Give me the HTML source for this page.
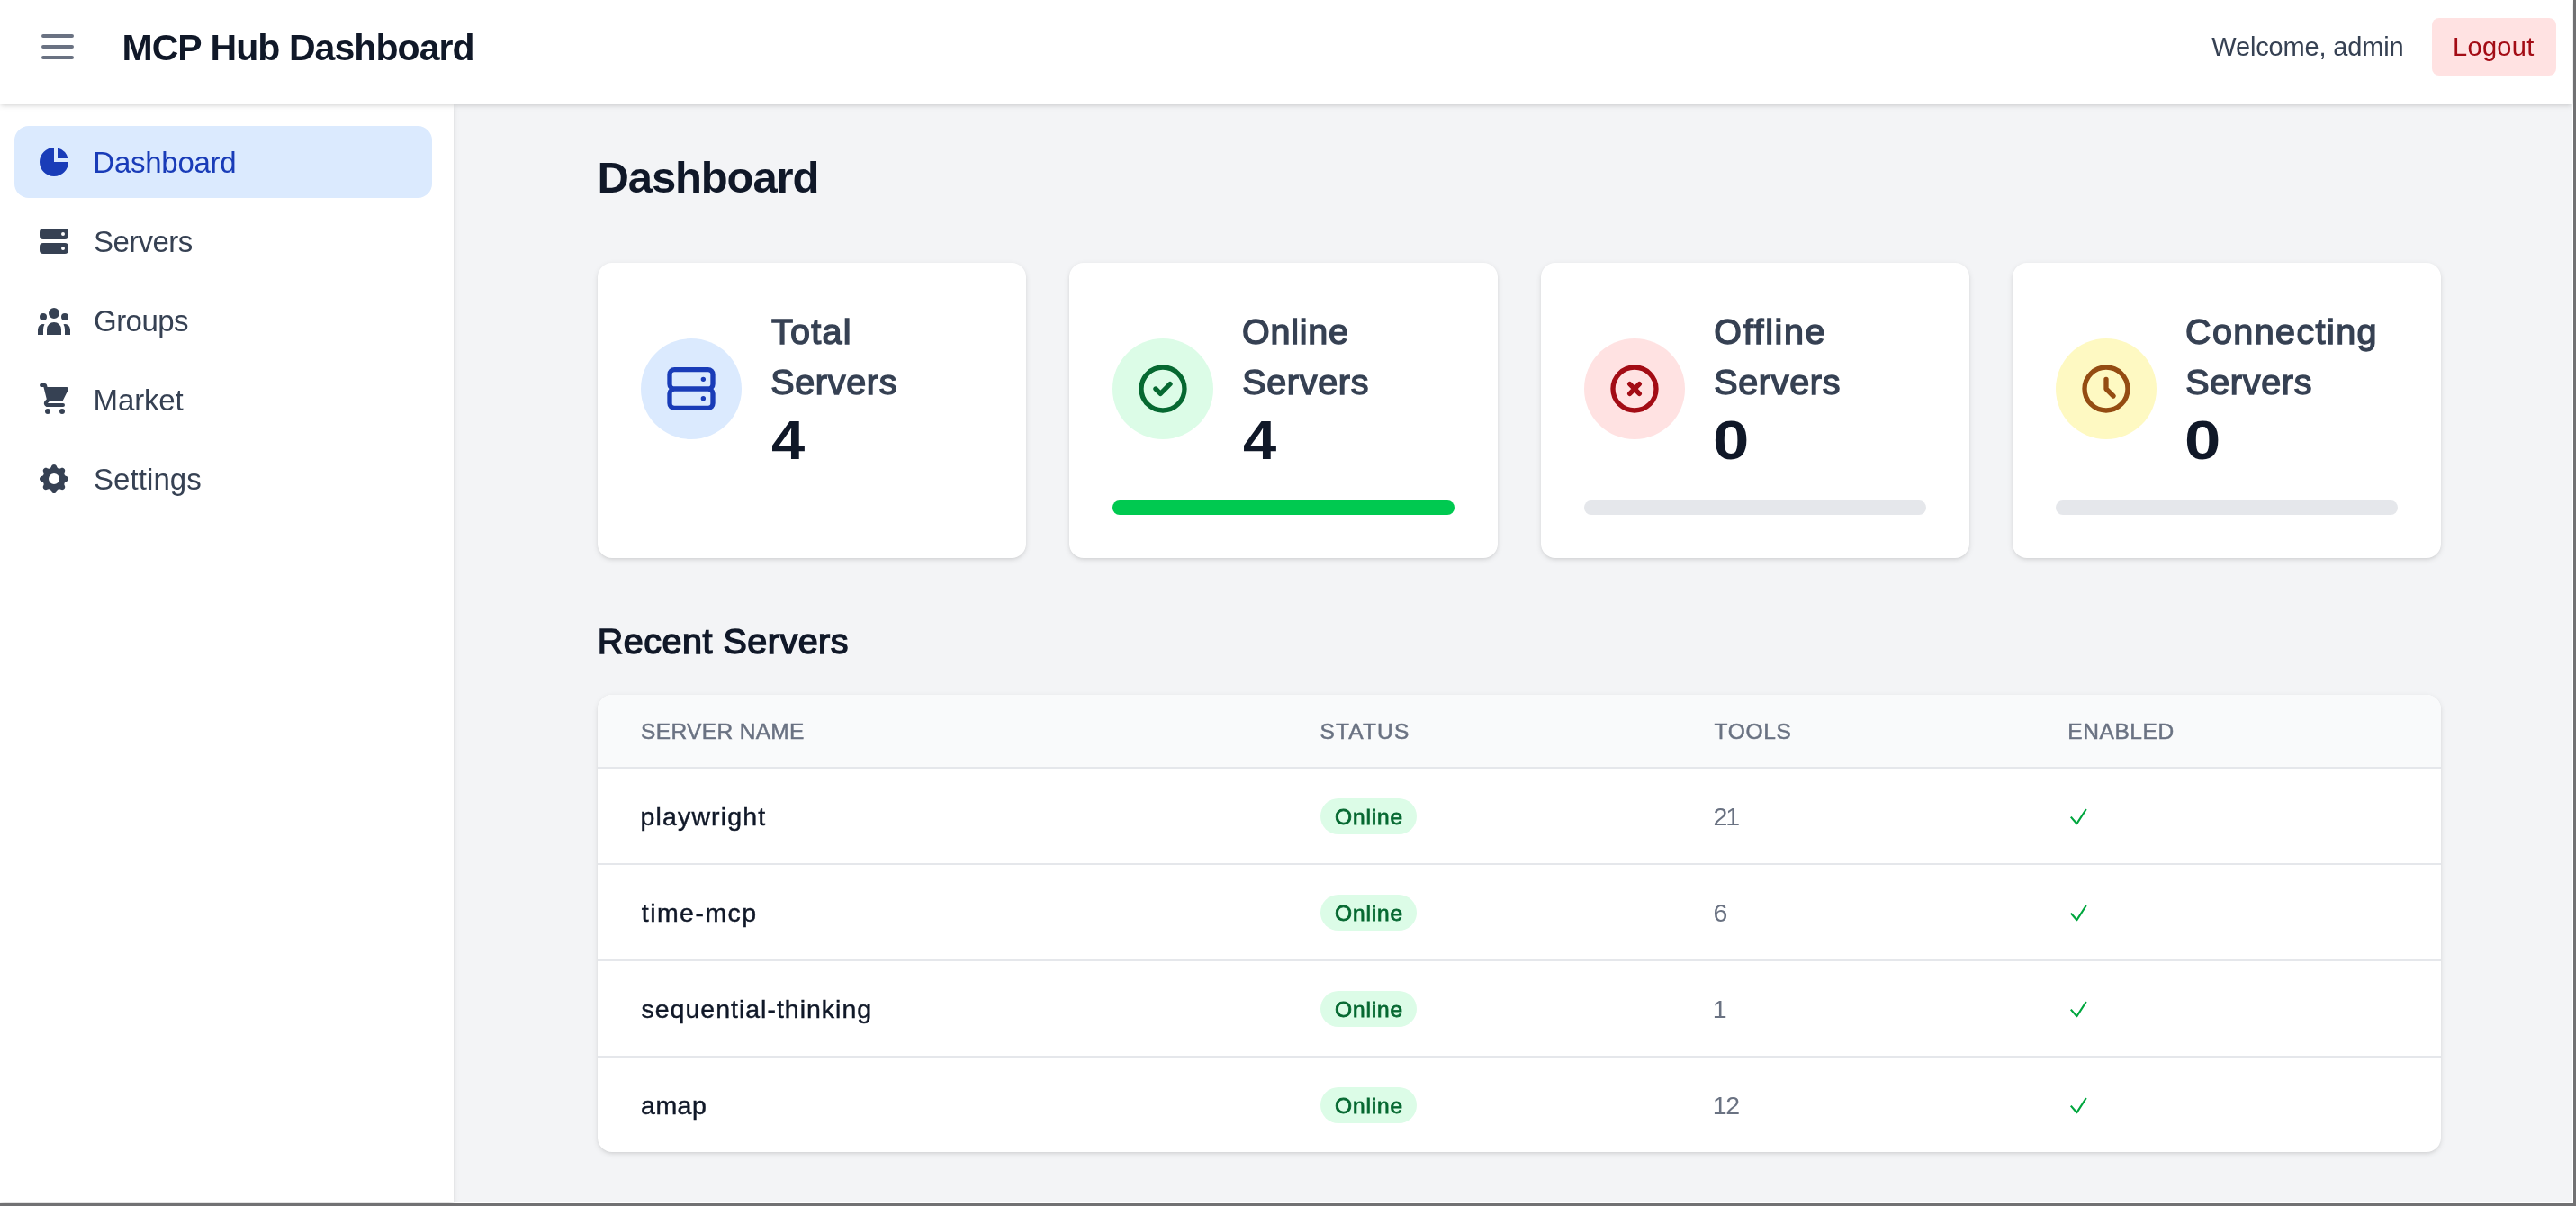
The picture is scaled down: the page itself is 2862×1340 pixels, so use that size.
<!DOCTYPE html>
<html lang="en"><head><meta charset="utf-8"><title>MCP Hub Dashboard</title>
<style>
*{box-sizing:border-box;margin:0;padding:0}
html,body{width:2862px;height:1340px;overflow:hidden;background:#717173;font-family:"Liberation Sans",sans-serif}
#page{position:absolute;left:0;top:0;width:2859px;height:1337px;background:#fff;overflow:hidden}
#main{position:absolute;left:504px;top:116px;width:2354px;height:1220px;background:#f3f4f6}
#side{position:absolute;left:0;top:116px;width:504px;height:1220px;background:#fff;box-shadow:0 2px 6px rgba(0,0,0,.1),0 2px 4px -2px rgba(0,0,0,.1)}
#head{position:absolute;left:0;top:0;width:2858px;height:116px;background:#fff;box-shadow:0 2px 6px rgba(0,0,0,.1),0 2px 4px -2px rgba(0,0,0,.1)}
.t{position:absolute;white-space:nowrap;display:block;will-change:transform}
.abs{position:absolute}
.card{position:absolute;top:292px;width:476px;height:328px;background:#fff;border-radius:16px;box-shadow:0 2px 6px rgba(0,0,0,.1),0 2px 4px -2px rgba(0,0,0,.1)}
.circ{position:absolute;left:48px;top:84px;width:112px;height:112px;border-radius:50%}
.circ svg{position:absolute;left:24px;top:24px;width:64px;height:64px}
.bar{position:absolute;left:48px;top:264px;width:380px;height:16px;border-radius:8px;background:#e5e7eb}
.nav{position:absolute;left:16px;width:464px;height:80px;border-radius:16px}
.nav svg{position:absolute;left:24px;top:20px;width:40px;height:40px}
#tbl{position:absolute;left:664px;top:772px;width:2048px;height:508px;background:#fff;border-radius:16px;overflow:hidden;box-shadow:0 2px 6px rgba(0,0,0,.1),0 2px 4px -2px rgba(0,0,0,.1)}
.hr{position:absolute;left:0;width:2048px;height:2px;background:#e5e7eb}
.badge{position:absolute;left:803px;width:107px;height:40px;border-radius:20px;background:#dcfce7}
</style></head><body><div id="page">

<main>
<div id="main"></div>
<span class="t" id="t0" style="left:663px;padding-left:0.55px;top:166px;font-size:49.0px;line-height:62px;font-weight:700;color:#101828;letter-spacing:-1.14px;">Dashboard</span>
<div class="card" style="left:664px"><div class="circ" style="background:#dbeafe"><svg viewBox="0 0 24 24" fill="none" stroke="#193cb8" stroke-width="2" stroke-linecap="round" stroke-linejoin="round"><path d="M5 12h14M5 12a2 2 0 01-2-2V6a2 2 0 012-2h14a2 2 0 012 2v4a2 2 0 01-2 2M5 12a2 2 0 00-2 2v4a2 2 0 002 2h14a2 2 0 002-2v-4a2 2 0 00-2-2m-2-4h.01M17 16h.01"/></svg></div>
</div>
<span class="t" id="t1" style="left:857px;padding-left:0.05px;top:342px;font-size:39.5px;line-height:52px;font-weight:400;color:#364153;letter-spacing:1.26px;-webkit-text-stroke:1.4px #364153;">Total</span>
<span class="t" id="t2" style="left:856px;padding-left:0.13px;top:398px;font-size:39.5px;line-height:52px;font-weight:400;color:#364153;letter-spacing:0.7px;-webkit-text-stroke:1.4px #364153;">Servers</span>
<span class="t" id="t3" style="left:857px;padding-left:0.00px;top:450px;font-size:62.0px;line-height:77px;font-weight:700;color:#101828;letter-spacing:0.0px;transform:scaleX(1.08);transform-origin:0 0;">4</span>
<div class="card" style="left:1188px"><div class="circ" style="background:#dcfce7"><svg viewBox="0 0 24 24" fill="none" stroke="#066831" stroke-width="2" stroke-linecap="round" stroke-linejoin="round"><path d="M9 12l2 2 4-4m6 2a9 9 0 11-18 0 9 9 0 0118 0z"/></svg></div>
<div class="bar" style="background:#00c950"></div>
</div>
<span class="t" id="t4" style="left:1380px;padding-left:0.04px;top:342px;font-size:39.5px;line-height:52px;font-weight:400;color:#364153;letter-spacing:0.73px;-webkit-text-stroke:1.4px #364153;">Online</span>
<span class="t" id="t5" style="left:1380px;padding-left:0.13px;top:398px;font-size:39.5px;line-height:52px;font-weight:400;color:#364153;letter-spacing:0.7px;-webkit-text-stroke:1.4px #364153;">Servers</span>
<span class="t" id="t6" style="left:1381px;padding-left:0.00px;top:450px;font-size:62.0px;line-height:77px;font-weight:700;color:#101828;letter-spacing:0.0px;transform:scaleX(1.08);transform-origin:0 0;">4</span>
<div class="card" style="left:1712px"><div class="circ" style="background:#ffe2e2"><svg viewBox="0 0 24 24" fill="none" stroke="#a30c15" stroke-width="2" stroke-linecap="round" stroke-linejoin="round"><path d="M10 14l2-2m0 0l2-2m-2 2l-2-2m2 2l2 2m7-2a9 9 0 11-18 0 9 9 0 0118 0z"/></svg></div>
<div class="bar" style="background:#e5e7eb"></div>
</div>
<span class="t" id="t7" style="left:1904px;padding-left:0.35px;top:342px;font-size:39.5px;line-height:52px;font-weight:400;color:#364153;letter-spacing:1.63px;-webkit-text-stroke:1.4px #364153;">Offline</span>
<span class="t" id="t8" style="left:1904px;padding-left:0.13px;top:398px;font-size:39.5px;line-height:52px;font-weight:400;color:#364153;letter-spacing:0.7px;-webkit-text-stroke:1.4px #364153;">Servers</span>
<span class="t" id="t9" style="left:1903px;padding-left:0.07px;top:450px;font-size:62.0px;line-height:77px;font-weight:700;color:#101828;letter-spacing:0.0px;transform:scaleX(1.17);transform-origin:0 0;">0</span>
<div class="card" style="left:2236px"><div class="circ" style="background:#fef9c2"><svg viewBox="0 0 24 24" fill="none" stroke="#944c12" stroke-width="2" stroke-linecap="round" stroke-linejoin="round"><path d="M12 8v4l3 3m6-3a9 9 0 11-18 0 9 9 0 0118 0z"/></svg></div>
<div class="bar" style="background:#e5e7eb"></div>
</div>
<span class="t" id="t10" style="left:2428px;padding-left:0.06px;top:342px;font-size:39.5px;line-height:52px;font-weight:400;color:#364153;letter-spacing:1.4px;-webkit-text-stroke:1.4px #364153;">Connecting</span>
<span class="t" id="t11" style="left:2428px;padding-left:0.13px;top:398px;font-size:39.5px;line-height:52px;font-weight:400;color:#364153;letter-spacing:0.7px;-webkit-text-stroke:1.4px #364153;">Servers</span>
<span class="t" id="t12" style="left:2427px;padding-left:0.07px;top:450px;font-size:62.0px;line-height:77px;font-weight:700;color:#101828;letter-spacing:0.0px;transform:scaleX(1.17);transform-origin:0 0;">0</span>
<span class="t" id="t13" style="left:663px;padding-left:0.69px;top:686px;font-size:39.5px;line-height:52px;font-weight:400;color:#101828;letter-spacing:0.51px;-webkit-text-stroke:1.4px #101828;">Recent Servers</span>
<div id="tbl"><div class="abs" style="left:0;top:0;width:2048px;height:80px;background:#f9fafb"></div>
<div class="hr" style="top:80px"></div>
<div class="hr" style="top:187px"></div>
<div class="hr" style="top:294px"></div>
<div class="hr" style="top:401px"></div>
<div class="badge" style="top:115px"></div>
<svg class="abs" style="left:1626px;top:118px" width="40" height="34" viewBox="0 0 40 34"><path d="M10.8 17.6L17.4 25.2L27.8 9" fill="none" stroke="#00a63e" stroke-width="2.15" stroke-linejoin="round"/></svg>
<div class="badge" style="top:222px"></div>
<svg class="abs" style="left:1626px;top:225px" width="40" height="34" viewBox="0 0 40 34"><path d="M10.8 17.6L17.4 25.2L27.8 9" fill="none" stroke="#00a63e" stroke-width="2.15" stroke-linejoin="round"/></svg>
<div class="badge" style="top:329px"></div>
<svg class="abs" style="left:1626px;top:332px" width="40" height="34" viewBox="0 0 40 34"><path d="M10.8 17.6L17.4 25.2L27.8 9" fill="none" stroke="#00a63e" stroke-width="2.15" stroke-linejoin="round"/></svg>
<div class="badge" style="top:436px"></div>
<svg class="abs" style="left:1626px;top:439px" width="40" height="34" viewBox="0 0 40 34"><path d="M10.8 17.6L17.4 25.2L27.8 9" fill="none" stroke="#00a63e" stroke-width="2.15" stroke-linejoin="round"/></svg>
</div>
<span class="t" id="t14" style="left:712px;padding-left:0.07px;top:795px;font-size:24.5px;line-height:35px;font-weight:400;color:#6a7282;letter-spacing:0.35px;-webkit-text-stroke:0.5px #6a7282;">SERVER NAME</span>
<span class="t" id="t15" style="left:1466px;padding-left:0.50px;top:795px;font-size:24.5px;line-height:35px;font-weight:400;color:#6a7282;letter-spacing:1.15px;-webkit-text-stroke:0.5px #6a7282;">STATUS</span>
<span class="t" id="t16" style="left:1904px;padding-left:0.47px;top:795px;font-size:24.5px;line-height:35px;font-weight:400;color:#6a7282;letter-spacing:0.68px;-webkit-text-stroke:0.5px #6a7282;">TOOLS</span>
<span class="t" id="t17" style="left:2297px;padding-left:0.29px;top:795px;font-size:24.5px;line-height:35px;font-weight:400;color:#6a7282;letter-spacing:0.58px;-webkit-text-stroke:0.5px #6a7282;">ENABLED</span>
<span class="t" id="t18" style="left:711px;padding-left:0.58px;top:887px;font-size:28.5px;line-height:40px;font-weight:400;color:#101828;letter-spacing:1.13px;-webkit-text-stroke:0.45px #101828;">playwright</span>
<span class="t" id="t19" style="left:1482px;padding-left:0.96px;top:890px;font-size:24.5px;line-height:35px;font-weight:400;color:#066831;letter-spacing:0.87px;-webkit-text-stroke:0.8px #066831;">Online</span>
<span class="t" id="t20" style="left:1903px;padding-left:0.54px;top:887px;font-size:28.5px;line-height:40px;font-weight:400;color:#6a7282;letter-spacing:-2.2px;">21</span>
<span class="t" id="t21" style="left:712px;padding-left:0.75px;top:994px;font-size:28.5px;line-height:40px;font-weight:400;color:#101828;letter-spacing:1.46px;-webkit-text-stroke:0.45px #101828;">time-mcp</span>
<span class="t" id="t22" style="left:1482px;padding-left:0.96px;top:997px;font-size:24.5px;line-height:35px;font-weight:400;color:#066831;letter-spacing:0.87px;-webkit-text-stroke:0.8px #066831;">Online</span>
<span class="t" id="t23" style="left:1903px;padding-left:0.55px;top:994px;font-size:28.5px;line-height:40px;font-weight:400;color:#6a7282;letter-spacing:0.0px;">6</span>
<span class="t" id="t24" style="left:712px;padding-left:0.49px;top:1101px;font-size:28.5px;line-height:40px;font-weight:400;color:#101828;letter-spacing:1.0px;-webkit-text-stroke:0.45px #101828;">sequential-thinking</span>
<span class="t" id="t25" style="left:1482px;padding-left:0.96px;top:1104px;font-size:24.5px;line-height:35px;font-weight:400;color:#066831;letter-spacing:0.87px;-webkit-text-stroke:0.8px #066831;">Online</span>
<span class="t" id="t26" style="left:1902px;padding-left:0.67px;top:1101px;font-size:28.5px;line-height:40px;font-weight:400;color:#6a7282;letter-spacing:0.0px;">1</span>
<span class="t" id="t27" style="left:712px;padding-left:0.10px;top:1208px;font-size:28.5px;line-height:40px;font-weight:400;color:#101828;letter-spacing:0.47px;-webkit-text-stroke:0.45px #101828;">amap</span>
<span class="t" id="t28" style="left:1482px;padding-left:0.96px;top:1211px;font-size:24.5px;line-height:35px;font-weight:400;color:#066831;letter-spacing:0.87px;-webkit-text-stroke:0.8px #066831;">Online</span>
<span class="t" id="t29" style="left:1902px;padding-left:0.67px;top:1208px;font-size:28.5px;line-height:40px;font-weight:400;color:#6a7282;letter-spacing:-1.3px;">12</span>
</main>
<aside><nav>
<div id="side"></div>
<div class="nav" style="top:140px;background:#dbeafe"><svg viewBox="0 0 20 20" fill="#193cb8"><path d="M2 10a8 8 0 018-8v8h8a8 8 0 11-16 0z"/><path d="M12 2.252A8.014 8.014 0 0117.748 8H12V2.252z"/></svg></div>
<span class="t" id="t30" style="left:103px;padding-left:0.34px;top:158px;font-size:33.0px;line-height:45px;font-weight:400;color:#193cb8;letter-spacing:-0.26px;">Dashboard</span>
<div class="nav" style="top:228px;"><svg viewBox="0 0 20 20" fill="#364153"><path fill-rule="evenodd" clip-rule="evenodd" d="M2 5a2 2 0 012-2h12a2 2 0 012 2v2a2 2 0 01-2 2H4a2 2 0 01-2-2V5zm14 1a1 1 0 11-2 0 1 1 0 012 0zM2 13a2 2 0 012-2h12a2 2 0 012 2v2a2 2 0 01-2 2H4a2 2 0 01-2-2v-2zm14 1a1 1 0 11-2 0 1 1 0 012 0z"/></svg></div>
<span class="t" id="t31" style="left:103px;padding-left:0.98px;top:246px;font-size:33.0px;line-height:45px;font-weight:400;color:#364153;letter-spacing:-0.57px;">Servers</span>
<div class="nav" style="top:316px;"><svg viewBox="0 0 20 20" fill="#364153"><path d="M13 6a3 3 0 11-6 0 3 3 0 016 0zM18 8a2 2 0 11-4 0 2 2 0 014 0zM14 15a4 4 0 00-8 0v3h8v-3zM6 8a2 2 0 11-4 0 2 2 0 014 0zM16 18v-3a5.972 5.972 0 00-.75-2.906A3.005 3.005 0 0119 15v3h-3zM4.75 12.094A5.973 5.973 0 004 15v3H1v-3a3 3 0 013.75-2.906z"/></svg></div>
<span class="t" id="t32" style="left:104px;padding-left:0.00px;top:334px;font-size:33.0px;line-height:45px;font-weight:400;color:#364153;letter-spacing:-0.52px;">Groups</span>
<div class="nav" style="top:404px;"><svg viewBox="0 0 20 20" fill="#364153"><path d="M3 1a1 1 0 000 2h1.22l.305 1.222a.997.997 0 00.01.042l1.358 5.43-.893.892C3.74 11.846 4.632 14 6.414 14H15a1 1 0 000-2H6.414l1-1H14a1 1 0 00.894-.553l3-6A1 1 0 0017 3H6.28l-.31-1.243A1 1 0 005 1H3zM16 16.5a1.5 1.5 0 11-3 0 1.5 1.5 0 013 0zM6.5 18a1.5 1.5 0 100-3 1.5 1.5 0 000 3z"/></svg></div>
<span class="t" id="t33" style="left:103px;padding-left:0.59px;top:422px;font-size:33.0px;line-height:45px;font-weight:400;color:#364153;letter-spacing:-0.14px;">Market</span>
<div class="nav" style="top:492px;"><svg viewBox="0 0 20 20" fill="#364153"><path fill-rule="evenodd" clip-rule="evenodd" d="M11.49 3.17c-.38-1.56-2.6-1.56-2.98 0a1.532 1.532 0 01-2.286.948c-1.372-.836-2.942.734-2.106 2.106.54.886.061 2.042-.947 2.287-1.561.379-1.561 2.6 0 2.978a1.532 1.532 0 01.947 2.287c-.836 1.372.734 2.942 2.106 2.106a1.532 1.532 0 012.287.947c.379 1.561 2.6 1.561 2.978 0a1.533 1.533 0 012.287-.947c1.372.836 2.942-.734 2.106-2.106a1.533 1.533 0 01.947-2.287c1.561-.379 1.561-2.6 0-2.978a1.532 1.532 0 01-.947-2.287c.836-1.372-.734-2.942-2.106-2.106a1.532 1.532 0 01-2.287-.947zM10 13a3 3 0 100-6 3 3 0 000 6z"/></svg></div>
<span class="t" id="t34" style="left:103px;padding-left:0.92px;top:510px;font-size:33.0px;line-height:45px;font-weight:400;color:#364153;letter-spacing:0.09px;">Settings</span>
</nav></aside>
<header>
<div id="head"></div>
<svg class="abs" style="left:40px;top:28px" width="48" height="48" viewBox="0 0 24 24" fill="none" stroke="#6a7282" stroke-width="2" stroke-linecap="round" stroke-linejoin="round"><path d="M4 6h16M4 12h16M4 18h16"/></svg>
<span class="t" id="t35" style="left:135px;padding-left:0.48px;top:26px;font-size:41.0px;line-height:54px;font-weight:700;color:#101828;letter-spacing:-0.93px;">MCP Hub Dashboard</span>
<span class="t" id="t36" style="left:2457px;padding-left:0.21px;top:32px;font-size:29.0px;line-height:40px;font-weight:400;color:#364153;letter-spacing:-0.15px;">Welcome, admin</span>
<div class="abs" style="left:2702px;top:20px;width:138px;height:64px;border-radius:8px;background:#ffe2e2"></div>
<span class="t" id="t37" style="left:2725px;padding-left:0.12px;top:32px;font-size:29.0px;line-height:40px;font-weight:400;color:#a30c15;letter-spacing:0.28px;">Logout</span>
</header>
</div></body></html>
